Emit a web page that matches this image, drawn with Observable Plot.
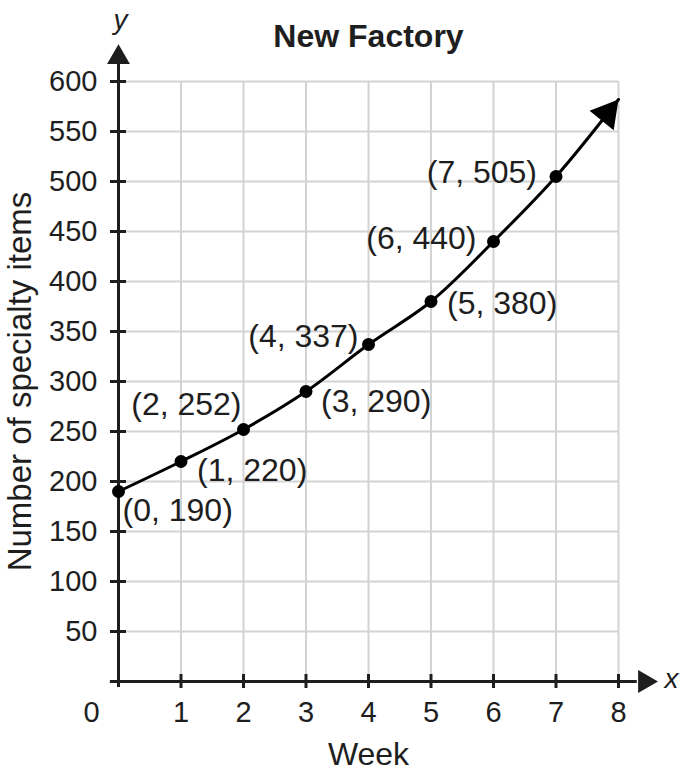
<!DOCTYPE html>
<html>
<head>
<meta charset="utf-8">
<script src="https://cdn.jsdelivr.net/npm/d3@7"></script>
<script src="https://cdn.jsdelivr.net/npm/@observablehq/plot@0.6"></script>
<style>
  html, body { margin: 0; padding: 0; background: #fff; }
  g[aria-label="point label"] text { word-spacing: 5px; }
</style>
</head>
<body>
<div id="chart"></div>
<script>
// ---- data ----
const weeks = [0, 1, 2, 3, 4, 5, 6, 7];
const items = [190, 220, 252, 290, 337, 380, 440, 505];
const curveEndWeek = 8;      // curve continues to the arrow tip
const curveEndItems = 582;
const xTickValues = [0, 1, 2, 3, 4, 5, 6, 7, 8];
const yTickValues = [50, 100, 150, 200, 250, 300, 350, 400, 450, 500, 550, 600];
const titleText = "New Factory";
const xTitle = "Week";
const yTitle = "Number of specialty items";

// ---- label placement (styling, separate from data) ----
const labelPlacement = [
  {anchor: "start", dx: 4, dy: 19},
  {anchor: "start", dx: 16, dy: 9},
  {anchor: "end", dx: -2, dy: -25},
  {anchor: "start", dx: 15, dy: 10},
  {anchor: "end", dx: -10, dy: -8},
  {anchor: "start", dx: 16, dy: 2},
  {anchor: "end", dx: -17, dy: -3},
  {anchor: "end", dx: -19, dy: -4}
];

const points = weeks.map((w, i) => ({week: w, items: items[i]}));
const curvePts = [...points, {week: curveEndWeek, items: curveEndItems}];

const font = "Liberation Sans, Arial, Helvetica, sans-serif";
const ink = "#1e1e1e";
const gridColor = "#d3d3d3";

const pointLabels = points.map((p, i) =>
  Plot.text([p], {
    x: "week", y: "items",
    text: d => `(${d.week}, ${d.items})`,
    textAnchor: labelPlacement[i].anchor,
    lineAnchor: "middle",
    dx: labelPlacement[i].dx, dy: labelPlacement[i].dy,
    fontSize: 32, fill: ink, fontFamily: font,
    ariaLabel: "point label"
  })
);

const chart = Plot.plot({
  width: 680,
  height: 778,
  marginLeft: 118,
  marginRight: 62,
  marginTop: 81,
  marginBottom: 97,
  x: {domain: [0, 8], axis: null},
  y: {domain: [0, 600], axis: null},
  style: {fontFamily: font, background: "#fff", color: ink},
  marks: [
    // grid
    Plot.ruleX(xTickValues.slice(1), {x: d => d, y1: 0, y2: 600, stroke: gridColor, strokeWidth: 2}),
    Plot.ruleY(yTickValues, {y: d => d, x1: 0, x2: 8, stroke: gridColor, strokeWidth: 2}),
    // axes lines
    Plot.ruleY([0], {x1: -0.13, x2: 8.3, stroke: ink, strokeWidth: 3}),
    Plot.ruleX([0], {y1: -6, y2: 620, stroke: ink, strokeWidth: 3}),
    // axis arrowheads
    Plot.dot([{x: 8.42, y: 0}], {x: "x", y: "y", symbol: "triangle", r: 8.5, rotate: 90, fill: ink, stroke: null}),
    Plot.dot([{x: 0, y: 624}], {x: "x", y: "y", symbol: "triangle", r: 8.5, fill: ink, stroke: null}),
    // ticks
    Plot.ruleX(xTickValues.slice(1), {x: d => d, y1: -7, y2: 7, stroke: ink, strokeWidth: 3}),
    Plot.ruleY(yTickValues, {y: d => d, x1: -8 / 62.5, x2: 8 / 62.5, stroke: ink, strokeWidth: 3}),
    // tick labels
    Plot.text(xTickValues.slice(1), {x: d => d, y: 0, dy: 31, text: d => String(d), fontSize: 29, fill: ink}),
    Plot.text([xTickValues[0]], {x: d => d, y: 0, dx: -27, dy: 31, text: d => String(d), fontSize: 29, fill: ink}),
    Plot.text(yTickValues, {x: 0, y: d => d, dx: -21, textAnchor: "end", text: d => String(d), fontSize: 29, fill: ink}),
    // curve
    Plot.line(curvePts, {x: "week", y: "items", curve: "catmull-rom", stroke: "#000", strokeWidth: 3}),
    Plot.dot([{x: 7.82, y: 568}], {x: "x", y: "y", symbol: "triangle", r: 11.5, rotate: 39, fill: "#000", stroke: null}),
    Plot.dot(points, {x: "week", y: "items", r: 6.5, fill: "#000", stroke: null}),
    ...pointLabels,
    // titles
    Plot.text([titleText], {frameAnchor: "top", lineAnchor: "middle", textAnchor: "middle", dy: -45, fontSize: 32, fontWeight: "bold", fill: ink}),
    Plot.text([xTitle], {frameAnchor: "bottom", lineAnchor: "middle", textAnchor: "middle", dy: 73, fontSize: 32, fill: ink}),
    Plot.text([yTitle], {frameAnchor: "left", lineAnchor: "middle", textAnchor: "middle", dx: -98, rotate: -90, fontSize: 33, fill: ink}),
    Plot.text(["y"], {x: 0, y: 600, dx: 2, dy: -61, fontSize: 28, fontStyle: "italic", fill: ink}),
    Plot.text(["x"], {x: 8, y: 0, dx: 53, dy: -2, fontSize: 28, fontStyle: "italic", fill: ink})
  ]
});

document.getElementById("chart").appendChild(chart);
</script>
</body>
</html>
